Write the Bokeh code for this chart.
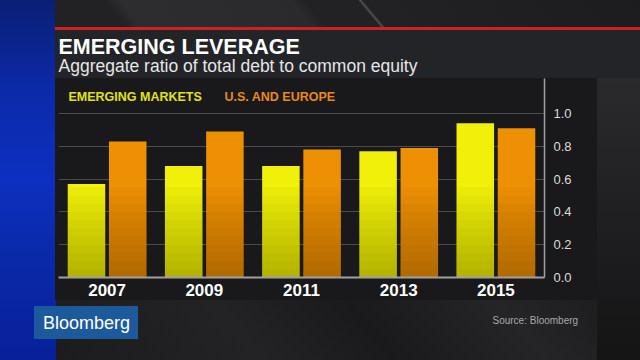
from bokeh.plotting import figure
from bokeh.models import (FactorRange, Range1d, Label, FixedTicker,
                          ColumnDataSource, PrintfTickFormatter)
from bokeh.transform import dodge
from bokeh.embed import file_html
from bokeh.resources import INLINE

# ---------------- data ----------------
years = ["2007", "2009", "2011", "2013", "2015"]
emerging = [0.57, 0.68, 0.68, 0.77, 0.94]
us_europe = [0.83, 0.89, 0.78, 0.79, 0.91]
y_ticks = [0.0, 0.2, 0.4, 0.6, 0.8, 1.0]

title_text = "EMERGING LEVERAGE"
subtitle_text = "Aggregate ratio of total debt to common equity"
series_names = ["EMERGING MARKETS", "U.S. AND EUROPE"]
source_text = "Source: Bloomberg"
brand_text = "Bloomberg"

# ---------------- layout ----------------
W, H = 640, 360
FL, FR, FT, FB = 58, 544, 78, 277          # frame edges in page pixels
PX_PER_UNIT = 164.0                         # pixels per 1.0 on the y scale
PX_PER_CAT = (FR - FL) / len(years)
FONT = "Liberation Sans"

def DX(px):   # page x -> synthetic categorical coordinate
    return (px - FL) / PX_PER_CAT

def DY(py):   # page y -> data value
    return (FB - py) / PX_PER_UNIT

src = ColumnDataSource(dict(year=years, em=emerging, us=us_europe))

p = figure(width=W, height=H, x_range=FactorRange(*years),
           y_range=Range1d(0, (FB - FT) / PX_PER_UNIT),
           output_backend="svg", toolbar_location=None, y_axis_location="right",
           min_border_left=FL, min_border_right=W - FR, min_border_top=FT,
           min_border_bottom=H - FB)
p.outline_line_color = None
p.border_fill_alpha = 0
p.background_fill_alpha = 0

# bars
W_BAR = 0.386
OFF = 0.212
p.vbar(x=dodge("year", -OFF, range=p.x_range), top="em", width=W_BAR, source=src,
       fill_color="#f0f00a", line_color=None)
p.vbar(x=dodge("year", OFF, range=p.x_range), top="us", width=W_BAR, source=src,
       fill_color="#ee9004", line_color=None)
# soft darkening toward the bottom of the bars
for k in range(1, 12):
    h = 0.05 * k
    shade = ColumnDataSource(dict(year=years,
                                  em=[min(v, h) for v in emerging],
                                  us=[min(v, h) for v in us_europe]))
    for col, off in (("em", -OFF), ("us", OFF)):
        p.vbar(x=dodge("year", off, range=p.x_range), top=col, width=W_BAR, source=shade,
               fill_color="black", fill_alpha=0.022, line_color=None)

# axes & grid
p.xgrid.visible = False
p.ygrid.ticker = FixedTicker(ticks=y_ticks)
p.ygrid.grid_line_color = "#4c4c4e"
p.ygrid.grid_line_width = 1

ya = p.yaxis[0]
ya.ticker = FixedTicker(ticks=y_ticks)
ya.formatter = PrintfTickFormatter(format="%.1f")
ya.axis_line_color = "#a0a0a0"
ya.axis_line_width = 1.5
ya.major_tick_line_color = None
ya.major_tick_out = 0
ya.major_tick_in = 0
ya.minor_tick_line_color = None
ya.major_label_text_color = "#dcdcdc"
ya.major_label_text_font = FONT
ya.major_label_text_font_size = "13px"
ya.major_label_standoff = 9

xa = p.xaxis[0]
xa.axis_line_color = "#a0a0a0"
xa.axis_line_width = 2
xa.major_tick_line_color = None
xa.major_tick_out = 0
xa.major_tick_in = 0
xa.minor_tick_line_color = None
xa.major_label_text_color = "white"
xa.major_label_text_font = FONT
xa.major_label_text_font_style = "bold"
xa.major_label_text_font_size = "17px"
xa.major_label_standoff = 6

def label(x, y, text, size, color, bold=False, align="left", baseline="alphabetic",
          place=None):
    lab = Label(x=DX(x), y=DY(y), text=text,
                text_font=FONT, text_font_size=size, text_color=color,
                text_font_style="bold" if bold else "normal",
                text_align=align, text_baseline=baseline)
    if place is None:
        p.add_layout(lab)
    else:
        p.add_layout(lab, place)

label(68, 96, series_names[0], "12.5px", "#e2e21c", bold=True, baseline="middle")
label(224, 96, series_names[1], "12.5px", "#e8891a", bold=True, baseline="middle")
label(58, 65, subtitle_text, "17.5px", "#e6e6e6", place="above")
label(58, 46, title_text, "21.5px", "white", bold=True, place="above")
label(492, 320, source_text, "10px", "#a8a8a8", baseline="middle", place="below")
label(86, 322, brand_text, "18px", "white", align="center", baseline="middle", place="below")

css = ("<style>html,body{background:"
       "linear-gradient(#1d5a9c,#1d5a9c) 34px 306px/104px 33px no-repeat,"
       "linear-gradient(#cc2226,#cc2226) 55px 27px/585px 3px no-repeat,"
       "linear-gradient(50deg,#222224 0px,#222224 55px,#2d2d30 66px,#2a2a2d 198px,"
       "#222224 208px,#222224 249px,#505054 251px,#222224 253px,#1c1c1e 100%) 55px 0/585px 27px no-repeat,"
       "linear-gradient(#232427,#232427) 55px 30px/585px 48px no-repeat,"
       "linear-gradient(#19191b,#19191b) 55px 78px/542px 222px no-repeat,"
       "linear-gradient(to bottom,#2a2a2c,#141415) 597px 78px/43px 282px no-repeat,"
       "linear-gradient(to bottom,#0a1f75 0%,#0b2aa8 25%,#0c30c0 50%,#0a29a8 72%,#08209a 100%) 0 0/56px 360px no-repeat,"
       "linear-gradient(50deg,#1a1a1c 0%,#232325 28%,#1a1a1c 42%,#252527 58%,#1a1a1c 74%,#1c1c1e 100%);"
       "}</style></head>")

html = file_html(p, INLINE)
html = html.replace("</head>", css, 1)
open("out.html", "w").write(html)
